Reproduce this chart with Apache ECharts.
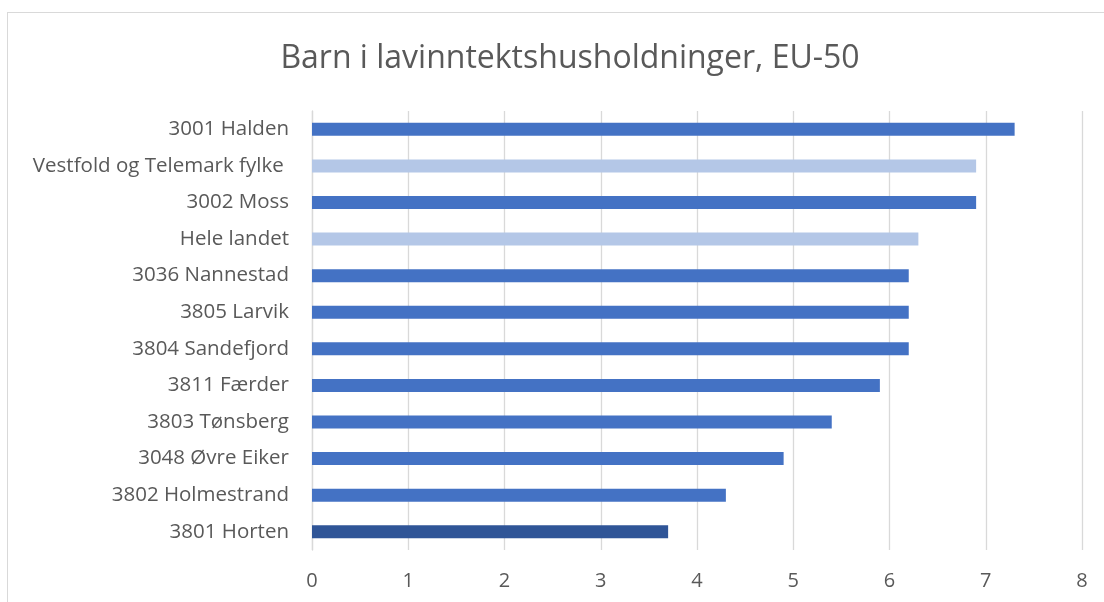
<!DOCTYPE html>
<html>
<head>
<meta charset="utf-8">
<script src="https://cdn.jsdelivr.net/npm/echarts@6/dist/echarts.min.js"></script>
<style>
  html, body { margin: 0; padding: 0; background: #fff; }
  #frame { position: absolute; left: 7px; top: 12px; width: 1110px; height: 610px; border: 1px solid #d9d9d9; box-sizing: border-box; }
  #chart { position: absolute; left: 0; top: 0; width: 1104px; height: 602px; }
</style>
</head>
<body>
<div id="frame"></div>
<div id="chart"></div>
<script>
const categories = [
  '3001 Halden', 'Vestfold og Telemark fylke ', '3002 Moss', 'Hele landet',
  '3036 Nannestad', '3805 Larvik', '3804 Sandefjord', '3811 Færder',
  '3803 Tønsberg', '3048 Øvre Eiker', '3802 Holmestrand', '3801 Horten'
];
const values = [7.3, 6.9, 6.9, 6.3, 6.2, 6.2, 6.2, 5.9, 5.4, 4.9, 4.3, 3.7];
const xTicks = [0, 1, 2, 3, 4, 5, 6, 7, 8];

// comparison rows are light, the home municipality is dark
const lightRows = ['Vestfold og Telemark fylke ', 'Hele landet'];
const homeRow = '3801 Horten';
function barColor(p) {
  if (lightRows.includes(p.name)) return '#b4c7e7';
  if (p.name === homeRow) return '#2f5597';
  return '#4472c4';
}

const textColor = '#595959';
const font = '"Open Sans", "Noto Sans", sans-serif';

const chart = echarts.init(document.getElementById('chart'), null, { renderer: 'canvas' });
chart.setOption({
  animation: false,
  backgroundColor: 'transparent',
  title: {
    text: 'Barn i lavinntektshusholdninger, EU-50',
    left: 565, textAlign: 'center', top: 38,
    textStyle: { color: textColor, fontSize: 32, fontWeight: 'normal', fontFamily: font }
  },
  grid: { left: 312, right: 22, top: 111, bottom: 52, containLabel: false },
  xAxis: {
    type: 'value', min: xTicks[0], max: xTicks[xTicks.length - 1], interval: 1,
    axisLine: { show: false }, axisTick: { show: false },
    splitLine: { show: true, lineStyle: { color: '#d9d9d9', width: 1.3 } },
    axisLabel: { color: textColor, fontSize: 20, fontFamily: font, margin: 21 }
  },
  yAxis: {
    type: 'category', data: categories, inverse: true,
    axisLine: { show: true, lineStyle: { color: '#d9d9d9', width: 1.3 } },
    axisTick: { show: false },
    axisLabel: { color: textColor, fontSize: 20.5, fontFamily: font, margin: 23 }
  },
  series: [{
    type: 'bar', data: values, barWidth: 13,
    itemStyle: { color: barColor }
  }]
});
</script>
</body>
</html>
